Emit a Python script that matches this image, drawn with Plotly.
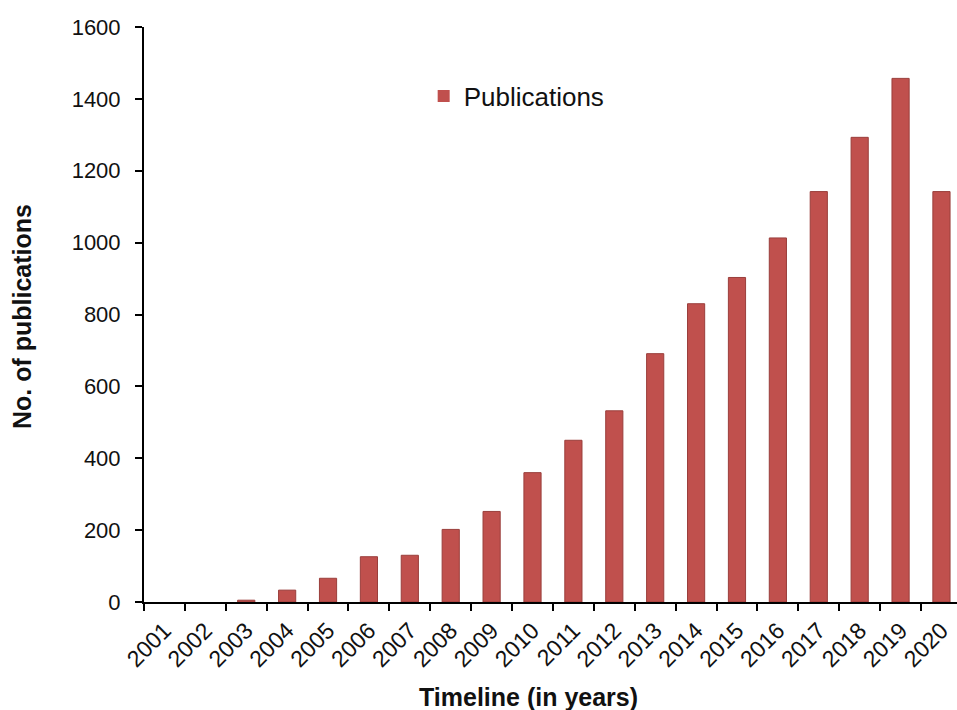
import plotly.graph_objects as go

years = [str(y) for y in range(2001, 2021)]
publications = [0, 0, 5, 33, 66, 126, 130, 202, 252, 360, 450, 532, 691, 830, 903, 1013, 1142, 1293, 1457, 1142]
y_ticks = [0, 200, 400, 600, 800, 1000, 1200, 1400, 1600]

BAR = "#C0504D"
FONT = "Liberation Sans, Arial, sans-serif"

fig = go.Figure()
fig.add_trace(go.Bar(
    x=years, y=publications, name="Publications",
    marker=dict(color=BAR, line=dict(color="#9a3e3b",
                                     width=[1 if v > 0 else 0 for v in publications])),
    width=0.42,
))

fig.update_layout(
    width=957, height=710,
    margin=dict(l=144, r=0, t=27, b=108),
    paper_bgcolor="white", plot_bgcolor="white",
    font=dict(family=FONT, color="#111111"),
    showlegend=True,
    legend=dict(x=0.344, y=(602 - 96) / 575, xanchor="left", yanchor="middle",
                font=dict(size=26, family=FONT, color="#111111"),
                bgcolor="rgba(0,0,0,0)", itemwidth=30),
    xaxis=dict(
        type="category", range=[-0.5, 19.38],
        showline=True, linecolor="black", linewidth=2,
        ticks="outside", tickson="boundaries", ticklen=7, tickwidth=2, tickcolor="black",
        tickangle=-45, tickfont=dict(size=23, family=FONT, color="#111111"),
        ticklabelstandoff=4,
        showgrid=False, zeroline=False,
    ),
    yaxis=dict(
        range=[0, 1600], tickvals=y_ticks,
        showline=True, linecolor="black", linewidth=2,
        ticks="outside", ticklen=7, tickwidth=2, tickcolor="black",
        tickfont=dict(size=22, family=FONT, color="#111111"),
        ticklabelstandoff=10,
        showgrid=False, zeroline=False,
    ),
    annotations=[
        dict(text="<b>Timeline (in years)</b>", xref="paper", yref="paper",
             x=(528 - 144) / 813, y=-(697 - 602) / 575, xanchor="center", yanchor="middle",
             showarrow=False, font=dict(size=25, family=FONT, color="#111111")),
        dict(text="<b>No. of publications</b>", xref="paper", yref="paper",
             x=-(144 - 22) / 813, y=(602 - 317) / 575, xanchor="center", yanchor="middle",
             textangle=-90,
             showarrow=False, font=dict(size=25, family=FONT, color="#111111")),
    ],
)

fig.write_html("out.html", config={"displayModeBar": False},
               post_script="document.body.style.margin='0';document.body.style.overflow='hidden';")
